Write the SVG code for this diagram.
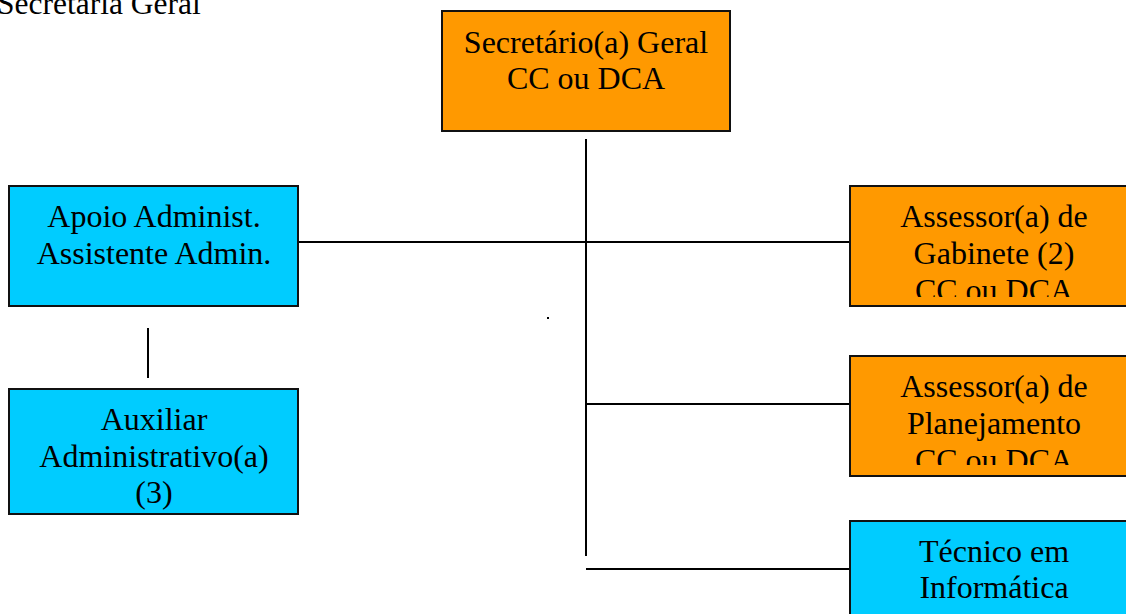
<svg xmlns="http://www.w3.org/2000/svg" width="1126" height="614" viewBox="0 0 1126 614">
<style>
.box{stroke:#111;stroke-width:2}
.or{fill:#FF9900}
.cy{fill:#00CCFF}
text{font-family:"Liberation Serif","Times New Roman",serif;font-size:32px;fill:#000;text-anchor:middle}
.ln{stroke:#000;stroke-width:2;fill:none}
</style>
<defs>
<clipPath id="c1"><rect x="850" y="186" width="290" height="111"/></clipPath>
<clipPath id="c2"><rect x="850" y="356" width="290" height="109"/></clipPath>
</defs>
<rect width="1126" height="614" fill="#fff"/>
<text x="-3" y="14" style="text-anchor:start;font-size:31.5px">Secretaria Geral</text>
<g id="connectors">
<line class="ln" x1="586" y1="139" x2="586" y2="556"/>
<line class="ln" x1="298" y1="242" x2="850" y2="242"/>
<line class="ln" x1="586" y1="404" x2="850" y2="404"/>
<line class="ln" x1="586" y1="569" x2="850" y2="569"/>
<line class="ln" x1="148" y1="328" x2="148" y2="378"/>
</g>
<rect x="547" y="317" width="2" height="2" fill="#000"/>
<g id="n-secretario">
<rect class="box or" x="442" y="11" width="288" height="120"/>
<text x="586" y="53">Secretário(a) Geral</text>
<text x="586" y="89">CC ou DCA</text>
</g>
<g id="n-apoio">
<rect class="box cy" x="9" y="186" width="289" height="120"/>
<text x="154" y="227">Apoio Administ.</text>
<text x="154" y="264">Assistente Admin.</text>
</g>
<g id="n-auxiliar">
<rect class="box cy" x="9" y="389" width="289" height="125"/>
<text x="154" y="430">Auxiliar</text>
<text x="154" y="467">Administrativo(a)</text>
<text x="154" y="503">(3)</text>
</g>
<g id="n-gabinete">
<rect class="box or" x="850" y="186" width="290" height="120"/>
<g clip-path="url(#c1)">
<text x="994" y="227">Assessor(a) de</text>
<text x="994" y="264">Gabinete (2)</text>
<text x="994" y="301">CC ou DCA</text>
</g>
</g>
<g id="n-planejamento">
<rect class="box or" x="850" y="356" width="290" height="120"/>
<g clip-path="url(#c2)">
<text x="994" y="397">Assessor(a) de</text>
<text x="994" y="434">Planejamento</text>
<text x="994" y="471">CC ou DCA</text>
</g>
</g>
<g id="n-tecnico">
<rect class="box cy" x="850" y="521" width="290" height="120"/>
<text x="994" y="562">Técnico em</text>
<text x="994" y="598">Informática</text>
</g>
</svg>
